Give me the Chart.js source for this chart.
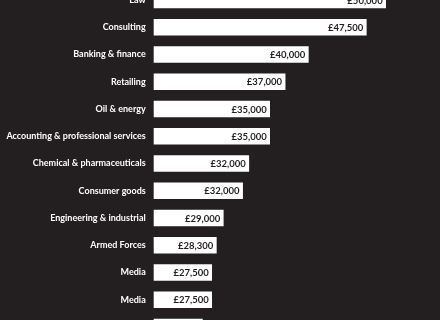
<!DOCTYPE html>
<html>
<head>
<meta charset="utf-8">
<script src="https://cdn.jsdelivr.net/npm/chart.js@4.4.1/dist/chart.umd.min.js"></script>
<style>
  html, body { margin: 0; padding: 0; background: #231f20; overflow: hidden; }
  body { width: 440px; height: 320px; position: relative; }
  #wrap { position: absolute; left: 0; top: -27.5px; width: 440px; height: 381px; }
</style>
</head>
<body>
<div id="wrap"><canvas id="chart_salaries"></canvas></div>
<script>
// Data
const sectors = [
  'Law', 'Consulting', 'Banking & finance', 'Retailing', 'Oil & energy',
  'Accounting & professional services', 'Chemical & pharmaceuticals',
  'Consumer goods', 'Engineering & industrial', 'Armed Forces',
  'Media', 'Media', ''
];
const salaries = [50000, 47500, 40000, 37000, 35000, 35000, 32300, 31500, 29000, 28100, 27500, 27500, 26300];
const salaryLabels = [
  '£50,000', '£47,500', '£40,000', '£37,000', '£35,000', '£35,000',
  '£32,000', '£32,000', '£29,000', '£28,300', '£27,500', '£27,500', '£26,300'
];

const BG = '#231f20';
const FONT = 'Lato, "Open Sans", sans-serif';

// Value labels drawn inside the end of each bar
const barValueLabels = {
  id: 'barValueLabels',
  afterDatasetsDraw(chart) {
    const ctx = chart.ctx;
    const meta = chart.getDatasetMeta(0);
    ctx.save();
    ctx.fillStyle = BG;
    ctx.font = 'bold 9.5px ' + FONT;
    ctx.textAlign = 'right';
    ctx.textBaseline = 'middle';
    meta.data.forEach((bar, i) => {
      ctx.fillText(salaryLabels[i], bar.x - 3, bar.y + 0.5);
    });
    ctx.restore();
  }
};

const ctx = document.getElementById('chart_salaries').getContext('2d');
new Chart(ctx, {
  type: 'bar',
  data: {
    labels: sectors,
    datasets: [{
      data: salaries,
      backgroundColor: '#ffffff',
      borderWidth: 0,
      barThickness: 16
    }]
  },
  options: {
    indexAxis: 'y',
    responsive: true,
    maintainAspectRatio: false,
    animation: false,
    layout: { padding: { left: 0, right: 15.7, top: 0, bottom: 0 } },
    plugins: {
      legend: { display: false },
      tooltip: { enabled: false }
    },
    scales: {
      x: {
        display: false,
        min: 20000,
        max: 55000
      },
      y: {
        grid: { display: false, drawTicks: false },
        border: { display: false },
        afterFit(axis) { axis.width = 153.7; },
        ticks: {
          color: '#ffffff',
          padding: 8,
          font: { family: FONT, size: 9, weight: 'bold' }
        }
      }
    }
  },
  plugins: [barValueLabels]
});
</script>
</body>
</html>
